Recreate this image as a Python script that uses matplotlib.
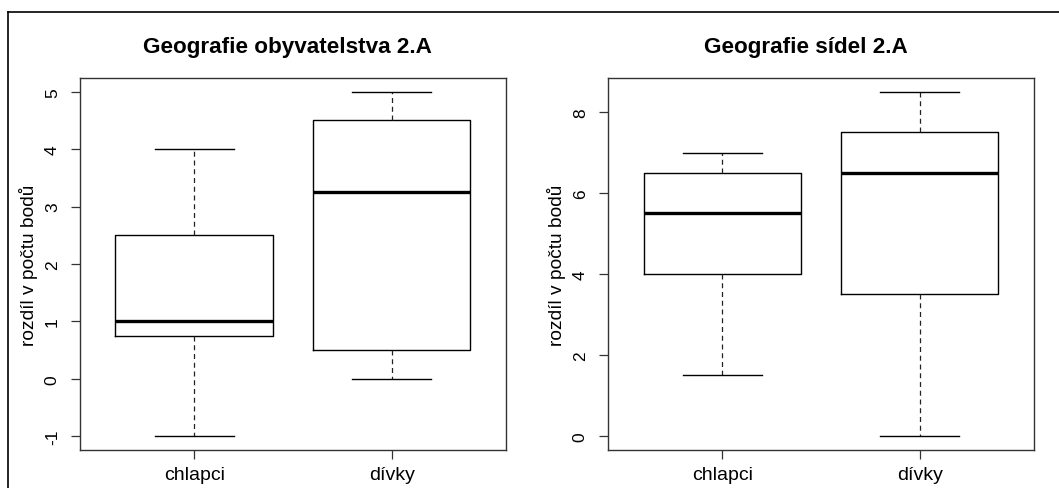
import matplotlib
matplotlib.use('Agg')
import matplotlib.pyplot as plt
from matplotlib.lines import Line2D

plt.rcParams['font.family'] = ['Liberation Sans', 'DejaVu Sans']

groups = ['chlapci', 'dívky']
ylabel = 'rozdíl v počtu bodů'

# Geografie obyvatelstva 2.A
obyv_title = 'Geografie obyvatelstva 2.A'
obyv_low = [-1, 0]
obyv_q1 = [0.75, 0.5]
obyv_med = [1, 3.25]
obyv_q3 = [2.5, 4.5]
obyv_high = [4, 5]
obyv_ticks = [-1, 0, 1, 2, 3, 4, 5]

# Geografie sídel 2.A
sidel_title = 'Geografie sídel 2.A'
sidel_low = [1.5, 0]
sidel_q1 = [4, 3.5]
sidel_med = [5.5, 6.5]
sidel_q3 = [6.5, 7.5]
sidel_high = [7, 8.5]
sidel_ticks = [0, 2, 4, 6, 8]

W, H = 1059, 489
fig = plt.figure(figsize=(W / 100, H / 100), dpi=100)


def panel(left_px, title, title_x, low, q1, med, q3, high, ticks):
    ax = fig.add_axes([left_px / W, (H - 451) / H, 426 / W, 372 / H])
    stats = []
    for i in range(len(groups)):
        stats.append(dict(label=groups[i], whislo=low[i], q1=q1[i], med=med[i],
                          q3=q3[i], whishi=high[i], fliers=[]))
    ax.bxp(stats, positions=[1, 2], widths=0.8, showfliers=False,
           boxprops=dict(color='black', linewidth=1.0),
           medianprops=dict(color='black', linewidth=2.4, solid_capstyle='butt'),
           whiskerprops=dict(color='#222222', linewidth=0.9, linestyle=(0, (4, 3))),
           capprops=dict(color='black', linewidth=1.0),
           capwidths=0.4)
    lo = min(low)
    hi = max(high)
    ext = (hi - lo) * 0.04
    ax.set_ylim(lo - ext, hi + ext)
    ax.set_xlim(0.5 - 0.08, 2.5 + 0.08)
    ax.set_yticks(ticks)
    ax.set_yticklabels([str(t) for t in ticks], rotation=90, va='center', fontsize=12.5)
    ax.set_xticks([1, 2])
    ax.set_xticklabels(groups, fontsize=14)
    ax.tick_params(axis='both', length=6.5, width=0.9, color='#333333', pad=8)
    ax.tick_params(axis='x', pad=5)
    for s in ax.spines.values():
        s.set_color('#333333')
        s.set_linewidth(1.0)
    ax.set_ylabel(ylabel, fontsize=13.8, labelpad=5)
    ax.set_title(title, fontsize=16.2, fontweight='bold', pad=18.5, x=title_x)
    return ax


panel(80, obyv_title, 0.488, obyv_low, obyv_q1, obyv_med, obyv_q3, obyv_high, obyv_ticks)
panel(608, sidel_title, 0.465, sidel_low, sidel_q1, sidel_med, sidel_q3, sidel_high, sidel_ticks)

# frame of the cropped screenshot
fig.add_artist(Line2D([8 / W, 1], [1 - 13 / H, 1 - 13 / H], color='black', linewidth=1.2))
fig.add_artist(Line2D([8 / W, 8 / W], [0, 1 - 13 / H], color='black', linewidth=1.2))

fig.savefig('out.png', dpi=100)
